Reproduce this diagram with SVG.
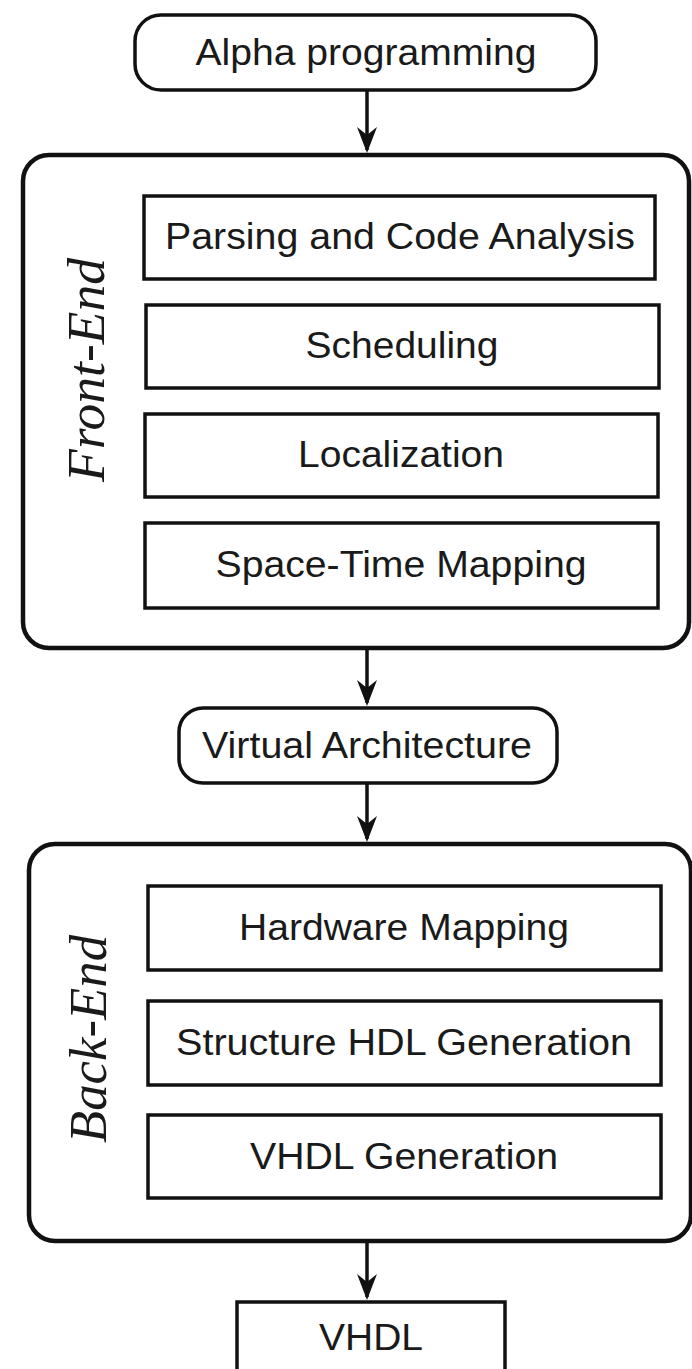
<svg xmlns="http://www.w3.org/2000/svg" width="692" height="1369" viewBox="0 0 692 1369">
<defs>
<style>
.bg{fill:#fff}
.box{fill:#fff;stroke:#111;stroke-width:3.5}
.outer{fill:#fff;stroke:#111;stroke-width:4.5}
.lbl{font-family:"Liberation Sans",Arial,sans-serif;font-size:36px;fill:#1a1a1a;text-anchor:middle}
.side{font-family:"Liberation Serif","Times New Roman",serif;font-style:italic;font-size:52px;fill:#1a1a1a;text-anchor:middle}
.conn{stroke:#111;stroke-width:3.5;fill:none}
</style>
<marker id="arr" markerUnits="userSpaceOnUse" viewBox="-28 -12 30 24" refX="-3" refY="0" markerWidth="30" markerHeight="24" orient="auto">
<path d="M0,0 L-26,-10 L-18,0 L-26,10 Z" fill="#111"/>
</marker>
</defs>
<rect class="bg" x="0" y="0" width="692" height="1369"/>

<g id="alpha">
<rect class="box" x="135" y="15" width="461" height="75" rx="26"/>
<text class="lbl" x="366" y="65" textLength="341" lengthAdjust="spacingAndGlyphs">Alpha programming</text>
</g>

<g id="frontend">
<rect class="outer" x="23" y="155" width="666" height="493" rx="26"/>
<text class="side" transform="translate(104,370) rotate(-90)" textLength="224" lengthAdjust="spacingAndGlyphs">Front-End</text>
</g>
<g id="parsing">
<rect class="box" x="144" y="196" width="511" height="83"/>
<text class="lbl" x="400" y="249" textLength="470" lengthAdjust="spacingAndGlyphs">Parsing and Code Analysis</text>
</g>
<g id="scheduling">
<rect class="box" x="146" y="305" width="513" height="83"/>
<text class="lbl" x="402" y="358" textLength="193" lengthAdjust="spacingAndGlyphs">Scheduling</text>
</g>
<g id="localization">
<rect class="box" x="145" y="414" width="513" height="83"/>
<text class="lbl" x="401" y="467" textLength="206" lengthAdjust="spacingAndGlyphs">Localization</text>
</g>
<g id="spacetime">
<rect class="box" x="145" y="523" width="513" height="85"/>
<text class="lbl" x="401" y="577" textLength="371" lengthAdjust="spacingAndGlyphs">Space-Time Mapping</text>
</g>

<g id="virtual">
<rect class="box" x="179" y="708" width="378" height="75" rx="24"/>
<text class="lbl" x="367" y="758" textLength="330" lengthAdjust="spacingAndGlyphs">Virtual Architecture</text>
</g>

<g id="backend">
<rect class="outer" x="29" y="844" width="662" height="397" rx="26"/>
<text class="side" transform="translate(106,1039) rotate(-90)" textLength="208" lengthAdjust="spacingAndGlyphs">Back-End</text>
</g>
<g id="hwmap">
<rect class="box" x="148" y="886" width="513" height="84"/>
<text class="lbl" x="404" y="940" textLength="330" lengthAdjust="spacingAndGlyphs">Hardware Mapping</text>
</g>
<g id="structhdl">
<rect class="box" x="148" y="1001" width="513" height="84"/>
<text class="lbl" x="404" y="1055" textLength="456" lengthAdjust="spacingAndGlyphs">Structure HDL Generation</text>
</g>
<g id="vhdlgen">
<rect class="box" x="148" y="1115" width="513" height="83"/>
<text class="lbl" x="404" y="1169" textLength="308" lengthAdjust="spacingAndGlyphs">VHDL Generation</text>
</g>

<g id="vhdl">
<rect class="box" x="237" y="1302" width="268" height="90"/>
<text class="lbl" x="371" y="1350" textLength="104" lengthAdjust="spacingAndGlyphs">VHDL</text>
</g>

<g id="connectors">
<line class="conn" x1="367" y1="90" x2="367" y2="150" marker-end="url(#arr)"/>
<line class="conn" x1="367" y1="648" x2="367" y2="703" marker-end="url(#arr)"/>
<line class="conn" x1="367" y1="783" x2="367" y2="839" marker-end="url(#arr)"/>
<line class="conn" x1="367" y1="1241" x2="367" y2="1297" marker-end="url(#arr)"/>
</g>
</svg>
